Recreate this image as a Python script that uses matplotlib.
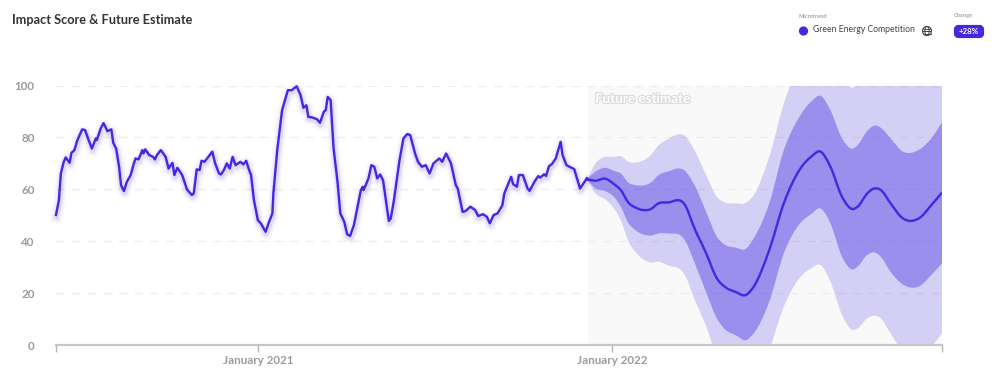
import matplotlib
matplotlib.use('Agg')
import matplotlib.pyplot as plt
import matplotlib.dates as mdates
import matplotlib.patheffects as pe
from matplotlib.path import Path
from matplotlib.patches import Circle, Ellipse, FancyBboxPatch, PathPatch
import numpy as np
import pandas as pd

plt.rcParams['font.family'] = ['Lato', 'DejaVu Sans']

start_date = pd.Timestamp('2020-06-07')

# historico: dias desde o inicio e score
hist_days = [0, 3, 5, 8, 10, 14, 16, 19, 22, 27, 30, 33, 37, 41, 42, 46, 49, 53, 57, 59, 62, 65, 67, 70, 73, 77, 80, 82, 85, 89,
             90, 92, 96, 100, 102, 104, 108, 113, 116, 120, 122, 125, 130, 135, 140, 142, 145, 148, 150, 153, 157, 161, 164, 168, 170, 173, 176, 179, 182, 185,
             190, 193, 196, 199, 201, 204, 208, 211, 216, 219, 223, 224, 228, 233, 239, 243, 248, 252, 255, 258, 260, 264, 269, 272, 276, 278, 280, 283, 286, 290,
             293, 297, 300, 303, 307, 310, 314, 316, 317, 322, 325, 328, 331, 334, 337, 343, 345, 348, 354, 358, 362, 365, 370, 373, 377, 381, 385, 389, 395, 398,
             402, 407, 412, 414, 419, 422, 427, 432, 435, 440, 444, 447, 451, 455, 460, 462, 465, 469, 471, 475, 477, 481, 486, 488, 493, 497, 499, 503, 505, 508,
             511, 515, 520, 522, 526, 529, 534, 540, 547]
hist_vals = [50.1, 55.8, 66.1, 70.6, 72.3, 70.2, 74.1, 75.1, 78.9, 83.1, 82.8, 79.6, 75.7, 79.6, 78.9, 83.4, 85.5, 82.4, 83.1, 77.9, 75.7, 68.7, 61.6, 59.3, 62.9, 65.5, 69.7, 71.9, 71.5, 75.1,
             73.8, 75.4, 73.2, 72.5, 71.5, 73.2, 75.1, 72.5, 68.0, 70.2, 65.5, 68.3, 65.5, 59.9, 57.8, 58.4, 67.7, 67.4, 71.0, 70.6, 72.5, 74.5, 70.0, 66.1, 65.7, 67.4, 70.0, 68.0, 72.5, 69.3,
             70.6, 69.6, 71.0, 67.4, 65.5, 55.8, 48.1, 46.9, 43.6, 46.9, 50.7, 58.4, 75.1, 90.5, 98.2, 98.2, 99.7, 96.3, 91.4, 92.4, 87.9, 87.7, 87.0, 85.6, 89.9, 90.5, 95.6, 94.4, 76.0, 63.2,
             50.7, 47.5, 42.7, 42.0, 46.2, 51.9, 59.4, 61.0, 59.7, 64.2, 69.3, 68.7, 64.2, 65.7, 63.5, 47.8, 48.8, 55.2, 71.2, 79.6, 81.3, 80.9, 73.8, 70.6, 68.7, 69.3, 66.1, 70.0, 71.9, 70.6,
             73.8, 70.0, 61.6, 60.3, 51.3, 51.6, 53.3, 52.0, 49.7, 50.4, 49.4, 46.9, 50.1, 50.7, 53.9, 58.4, 61.2, 64.8, 62.0, 61.0, 65.5, 65.5, 60.3, 59.4, 62.9, 65.1, 64.5, 65.8, 65.1, 68.9,
             69.7, 71.9, 78.3, 73.2, 69.3, 68.7, 67.8, 60.3, 64.2]

# estimativa futura
fut_days = [548, 556, 566, 575, 582, 590, 597, 613, 621, 630, 649, 657, 670, 681, 690, 700, 711, 719, 735, 750, 766, 778, 788, 798, 810, 821, 826, 836, 843, 850, 860, 872, 890, 902, 913]
fut_mid = [63.8, 63.3, 64.1, 62.0, 59.7, 54.8, 53.0, 52.4, 54.6, 54.9, 53.4, 45.8, 35.3, 25.7, 22.2, 20.5, 19.3, 22.5, 36.6, 54.6, 67.4, 72.5, 74.5, 68.7, 57.1, 52.4, 53.3, 58.4, 60.3, 59.7, 54.6, 49.0, 49.0, 53.9, 58.7]
inner_up = [64.2, 66.8, 68.3, 67.1, 66.1, 62.5, 61.6, 62.6, 65.5, 66.8, 66.8, 62.3, 51.3, 41.7, 38.5, 37.6, 37.1, 41.1, 54.6, 75.1, 87.9, 93.7, 96.0, 90.5, 79.6, 75.7, 77.0, 82.5, 84.5, 83.7, 79.6, 74.7, 75.4, 79.6, 85.8]
inner_lo = [63.5, 60.3, 59.3, 57.1, 53.3, 46.9, 44.3, 42.2, 43.0, 43.0, 39.8, 32.7, 20.3, 10.3, 5.8, 3.9, 1.9, 4.5, 16.7, 35.3, 46.6, 50.4, 52.6, 46.9, 34.0, 29.1, 30.2, 34.7, 35.7, 34.0, 28.2, 23.5, 22.7, 27.0, 31.5]
outer_up = [64.4, 70.0, 72.5, 72.5, 72.8, 70.6, 70.3, 73.2, 77.0, 79.2, 80.2, 75.7, 65.5, 57.1, 54.8, 54.6, 54.8, 57.8, 72.5, 93.0, 107.8, 112.3, 113.6, 111.0, 104.6, 99.1, 100.5, 105.9, 107.8, 107.0, 105.9, 102.0, 102.7, 104.6, 108.5]
outer_lo = [63.3, 58.4, 56.1, 52.6, 48.1, 39.8, 35.9, 31.8, 32.1, 30.8, 26.3, 18.6, 7.1, -4.5, -12.0, -17.0, -18.6, -16.7, -2.0, 14.8, 25.7, 29.5, 30.8, 24.4, 11.6, 5.8, 6.4, 10.3, 11.3, 10.3, 4.5, -2.0, -3.0, -0.6, 4.5]

y_ticks = [0, 20, 40, 60, 80, 100]
tick_dates = ['2020-06-07', '2021-01-01', '2022-01-01', '2022-12-07']
tick_labels = ['', 'January 2021', 'January 2022', '']

purple = '#4328e0'
grey_txt = '#9c9a9c'


def to_dates(days):
    return start_date + pd.to_timedelta(days, unit='D')


def curve(x, y):
    # bezier pela sequencia de pontos (tangentes de Catmull-Rom), sem pontos novos
    x = np.asarray(x, dtype=float)
    y = np.asarray(y, dtype=float)
    slope = np.gradient(y, x)
    verts = []
    for i in range(len(x) - 1):
        h = (x[i + 1] - x[i]) / 3
        verts.append((x[i] + h, y[i] + slope[i] * h))
        verts.append((x[i + 1] - h, y[i + 1] - slope[i + 1] * h))
        verts.append((x[i + 1], y[i + 1]))
    return verts


def band(ax, x, lo, up, **kw):
    verts = [(x[0], up[0])] + curve(x, up) + [(x[-1], lo[-1])] + curve(x[::-1], lo[::-1]) + [(x[0], up[0])]
    n = (len(x) - 1) * 3
    codes = [Path.MOVETO] + [Path.CURVE4] * n + [Path.LINETO] + [Path.CURVE4] * n + [Path.CLOSEPOLY]
    ax.add_patch(PathPatch(Path(verts, codes), lw=0, **kw))


fig = plt.figure(figsize=(9.98, 3.76), dpi=100)
ax = fig.add_axes([56 / 998, 31 / 376, 886 / 998, 259.5 / 376])

x_hist = to_dates(hist_days)
x_fut = to_dates(fut_days)
x_num = mdates.date2num(x_fut)

ax.plot(x_hist, hist_vals, alpha=0)  # fixa o eixo de datas
ax.axvspan(x_fut[0], x_fut[-1], color='#f9f9f9', lw=0, zorder=0)
ax.set_yticks(y_ticks)
ax.yaxis.grid(True, color='#ececec', lw=0.9, dashes=(6.5, 6), zorder=1)
ax.set_axisbelow(True)

band(ax, x_num, outer_lo, outer_up, fc=purple, alpha=0.2, zorder=2)
band(ax, x_num, inner_lo, inner_up, fc=purple, alpha=0.39, zorder=3)

# brilho em volta da linha
glow = [pe.Stroke(linewidth=w, foreground=purple, alpha=a, offset=(0.5, -1.5))
        for w, a in [(9, 0.02), (7, 0.03), (5, 0.05), (3.5, 0.07)]] + [pe.Normal()]
ax.plot(x_hist, hist_vals, color=purple, lw=1.7, zorder=5, clip_on=False, path_effects=glow, solid_joinstyle='round')
ax.plot([x_hist[-1], x_fut[0]], [hist_vals[-1], fut_mid[0]], color=purple, lw=1.7, zorder=5)
mid_verts = [(x_num[0], fut_mid[0])] + curve(x_num, fut_mid)
mid_codes = [Path.MOVETO] + [Path.CURVE4] * (len(mid_verts) - 1)
ax.add_patch(PathPatch(Path(mid_verts, mid_codes), fill=False, ec=purple, lw=1.7, zorder=5))

ax.set_xlim(x_hist[0], x_fut[-1])
ax.set_ylim(0, 100)
ax.set_xticks(pd.to_datetime(tick_dates))
ax.set_xticklabels(tick_labels)

for s in ['top', 'left', 'right']:
    ax.spines[s].set_visible(False)
ax.spines['bottom'].set_color('#c6c6c6')
ax.spines['bottom'].set_linewidth(1.6)
ax.spines['bottom'].set_zorder(6)
ax.tick_params(axis='y', length=0, pad=15.5, labelsize=8.4, labelcolor=grey_txt)
ax.tick_params(axis='x', length=5, width=1, color='#b5b5b5', pad=2.5, labelsize=8.4, labelcolor=grey_txt)
for lab in ax.get_xticklabels() + ax.get_yticklabels():
    lab.set_fontweight('bold')
ax.get_xticklines()[-2].set_color('#e2e2e2')

# camada por cima em pixels, para titulo e legenda
ov = fig.add_axes([0, 0, 1, 1], facecolor='none')
ov.set_xlim(0, 998)
ov.set_ylim(376, 0)
ov.axis('off')

ov.text(12, 20.5, 'Impact Score & Future Estimate', fontsize=9.2, fontweight='bold', color='#333333', va='center')
ov.text(799, 16, 'Microtrend', fontsize=4.1, fontweight='bold', color='#a5a5a5', va='center')
ov.text(954, 16, 'Change', fontsize=4.1, fontweight='bold', color='#a5a5a5', va='center')
ov.add_patch(Circle((803.5, 31), 4.6, color=purple, lw=0))
ov.text(813, 30, 'Green Energy Competition', fontsize=6.25, color='#444444', va='center')

# icone do globo
ov.add_patch(Circle((927, 31), 4.5, fill=False, ec='#444444', lw=0.8))
ov.add_patch(Ellipse((927, 31), 4.2, 9, fill=False, ec='#444444', lw=0.7))
ov.plot([922.5, 931.5], [31, 31], color='#444444', lw=0.7)
ov.plot([923.2, 930.8], [28.5, 28.5], color='#444444', lw=0.6)
ov.plot([923.2, 930.8], [33.5, 33.5], color='#444444', lw=0.6)

ov.add_patch(FancyBboxPatch((956, 27), 26, 9, boxstyle='round,pad=0,rounding_size=2.5', mutation_aspect=1,
                            fc=purple, ec=purple, lw=3))
ov.text(969, 32, '+28%', fontsize=5.8, fontweight='bold', color='white', ha='center', va='center')

ov.text(595, 99, 'Future estimate', fontsize=9.7, fontweight='bold', color='white', va='center',
        path_effects=[pe.withStroke(linewidth=1.6, foreground='#cfcfcf', alpha=0.7)])

fig.savefig('out.png', dpi=100)
